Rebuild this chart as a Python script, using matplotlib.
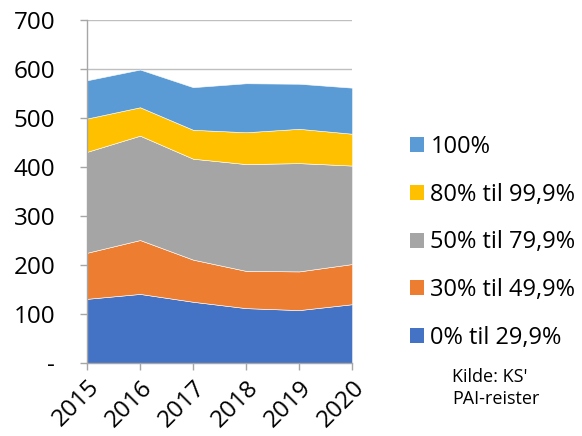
import matplotlib
matplotlib.use("Agg")
import matplotlib.pyplot as plt
from matplotlib.patches import Patch

years = [2015, 2016, 2017, 2018, 2019, 2020]
series_labels = ["0% til 29,9%", "30% til 49,9%", "50% til 79,9%", "80% til 99,9%", "100%"]
s0_29 = [131, 141, 125, 112, 108, 120]
s30_49 = [94, 110, 86, 76, 79, 82]
s50_79 = [206, 213, 206, 218, 221, 201]
s80_99 = [68, 58, 59, 65, 70, 65]
s100 = [78, 77, 87, 100, 92, 94]
colors = ["#4472C4", "#ED7D31", "#A5A5A5", "#FFC000", "#5B9BD5"]
yticks = [0, 100, 200, 300, 400, 500, 600, 700]
ytick_labels = ["-", "100", "200", "300", "400", "500", "600", "700"]

plt.rcParams['font.family'] = ['Open Sans', 'DejaVu Sans']
fig = plt.figure(figsize=(5.82, 4.36), dpi=100)
ax = fig.add_axes([0.1495, 0.1674, 0.4555, 0.7866])

ax.stackplot(years, s0_29, s30_49, s50_79, s80_99, s100, colors=colors,
             labels=series_labels, edgecolor='white', linewidth=0.4, zorder=2)

ax.set_xlim(years[0], years[-1])
ax.set_ylim(0, 700)
ax.set_yticks(yticks)
ax.set_yticklabels(ytick_labels, fontsize=17.5)
ax.set_xticks(years)
ax.set_xticklabels([str(y) for y in years], fontsize=17.5, rotation=45, ha='right',
                   rotation_mode='anchor')
ax.yaxis.grid(True, color='#BFBFBF', linewidth=1, zorder=1)
ax.set_axisbelow(True)
for side in ['top', 'right']:
    ax.spines[side].set_visible(False)
for side in ['left', 'bottom']:
    ax.spines[side].set_color('#A6A6A6')
    ax.spines[side].set_linewidth(1)
    ax.spines[side].set_zorder(3)
ax.tick_params(axis='both', colors='#A6A6A6', length=5, width=1, labelcolor='black')
ax.tick_params(axis='y', pad=18)
ax.tick_params(axis='x', pad=4)

handles = [Patch(facecolor=c) for c in colors][::-1]
labels = series_labels[::-1]
leg = fig.legend(handles, labels, loc='upper left', bbox_to_anchor=(0.705, 0.69),
                 frameon=False, fontsize=17, handlelength=0.6, handleheight=0.6,
                 handletextpad=0.25, labelspacing=1.0, borderaxespad=0, borderpad=0)

fig.text(0.777, 0.11, "Kilde: KS'\nPAI-reister", fontsize=13, va='center', ha='left',
         linespacing=1.35)

fig.savefig("out.png", dpi=100)
